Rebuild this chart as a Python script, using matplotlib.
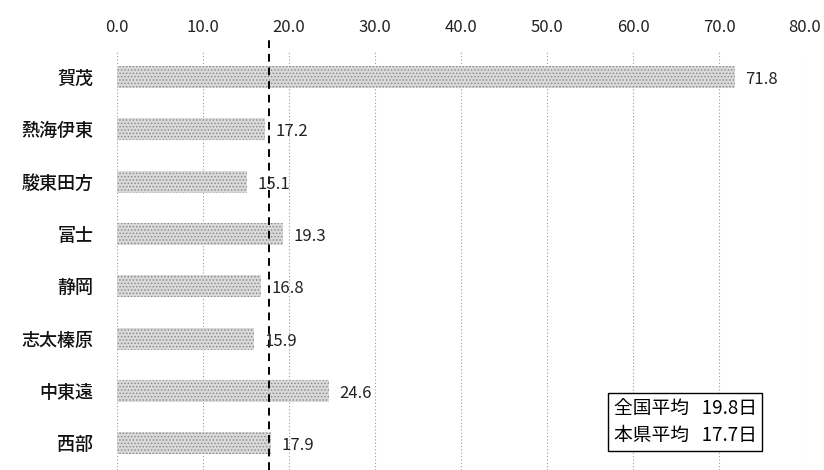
import matplotlib.pyplot as plt

plt.rcParams['font.family'] = ['Noto Sans CJK JP', 'DejaVu Sans']
plt.rcParams['hatch.linewidth'] = 0.7

regions = ['賀茂', '熱海伊東', '駿東田方', '富士', '静岡', '志太榛原', '中東遠', '西部']
days = [71.8, 17.2, 15.1, 19.3, 16.8, 15.9, 24.6, 17.9]
national_avg = 19.8
pref_avg = 17.7
xticks = [0, 10, 20, 30, 40, 50, 60, 70, 80]

fig = plt.figure(figsize=(8.24, 4.70), dpi=100)
ax = fig.add_axes([0.142, 0.0, 0.835, 0.894])

pos = list(range(len(regions)))
ax.barh(pos, days, height=0.42, color='#dadada', edgecolor='#8c8c8c',
        linewidth=0, hatch='.....', zorder=2)

for y, v in zip(pos, days):
    ax.text(v + 1.2, y + 0.05, f'{v:.1f}', va='center', ha='left',
            fontsize=12, color='#222222', zorder=4)

# prefecture average
ax.axvline(pref_avg, ymin=0, ymax=1.03, color='black', linestyle=(0, (4, 3)),
           linewidth=1.4, clip_on=False, zorder=3)

ax.set_xlim(0, 80)
ax.set_ylim(7.51, -0.52)
ax.set_xticks(xticks)
ax.set_xticklabels([f'{t:.1f}' for t in xticks], fontsize=12, color='#222222')
ax.xaxis.tick_top()
ax.set_yticks(pos)
ax.set_yticklabels(regions, fontsize=13, color='#111111', fontweight='medium')
ax.tick_params(axis='both', length=0)
ax.tick_params(axis='x', pad=10)
ax.tick_params(axis='y', pad=17)
ax.grid(axis='x', color='#9a9a9a', linestyle=(0, (1, 2)), linewidth=0.8, zorder=1)
for s in ax.spines.values():
    s.set_visible(False)

ax.text(0.722, 0.114, f'全国平均   {national_avg}日\n本県平均   {pref_avg}日',
        transform=ax.transAxes, fontsize=13.5, linespacing=1.3, va='center', ha='left',
        bbox=dict(boxstyle='square,pad=0.3', facecolor='white', edgecolor='black',
                  linewidth=1.0), zorder=5)

fig.savefig('out.png', dpi=100)
